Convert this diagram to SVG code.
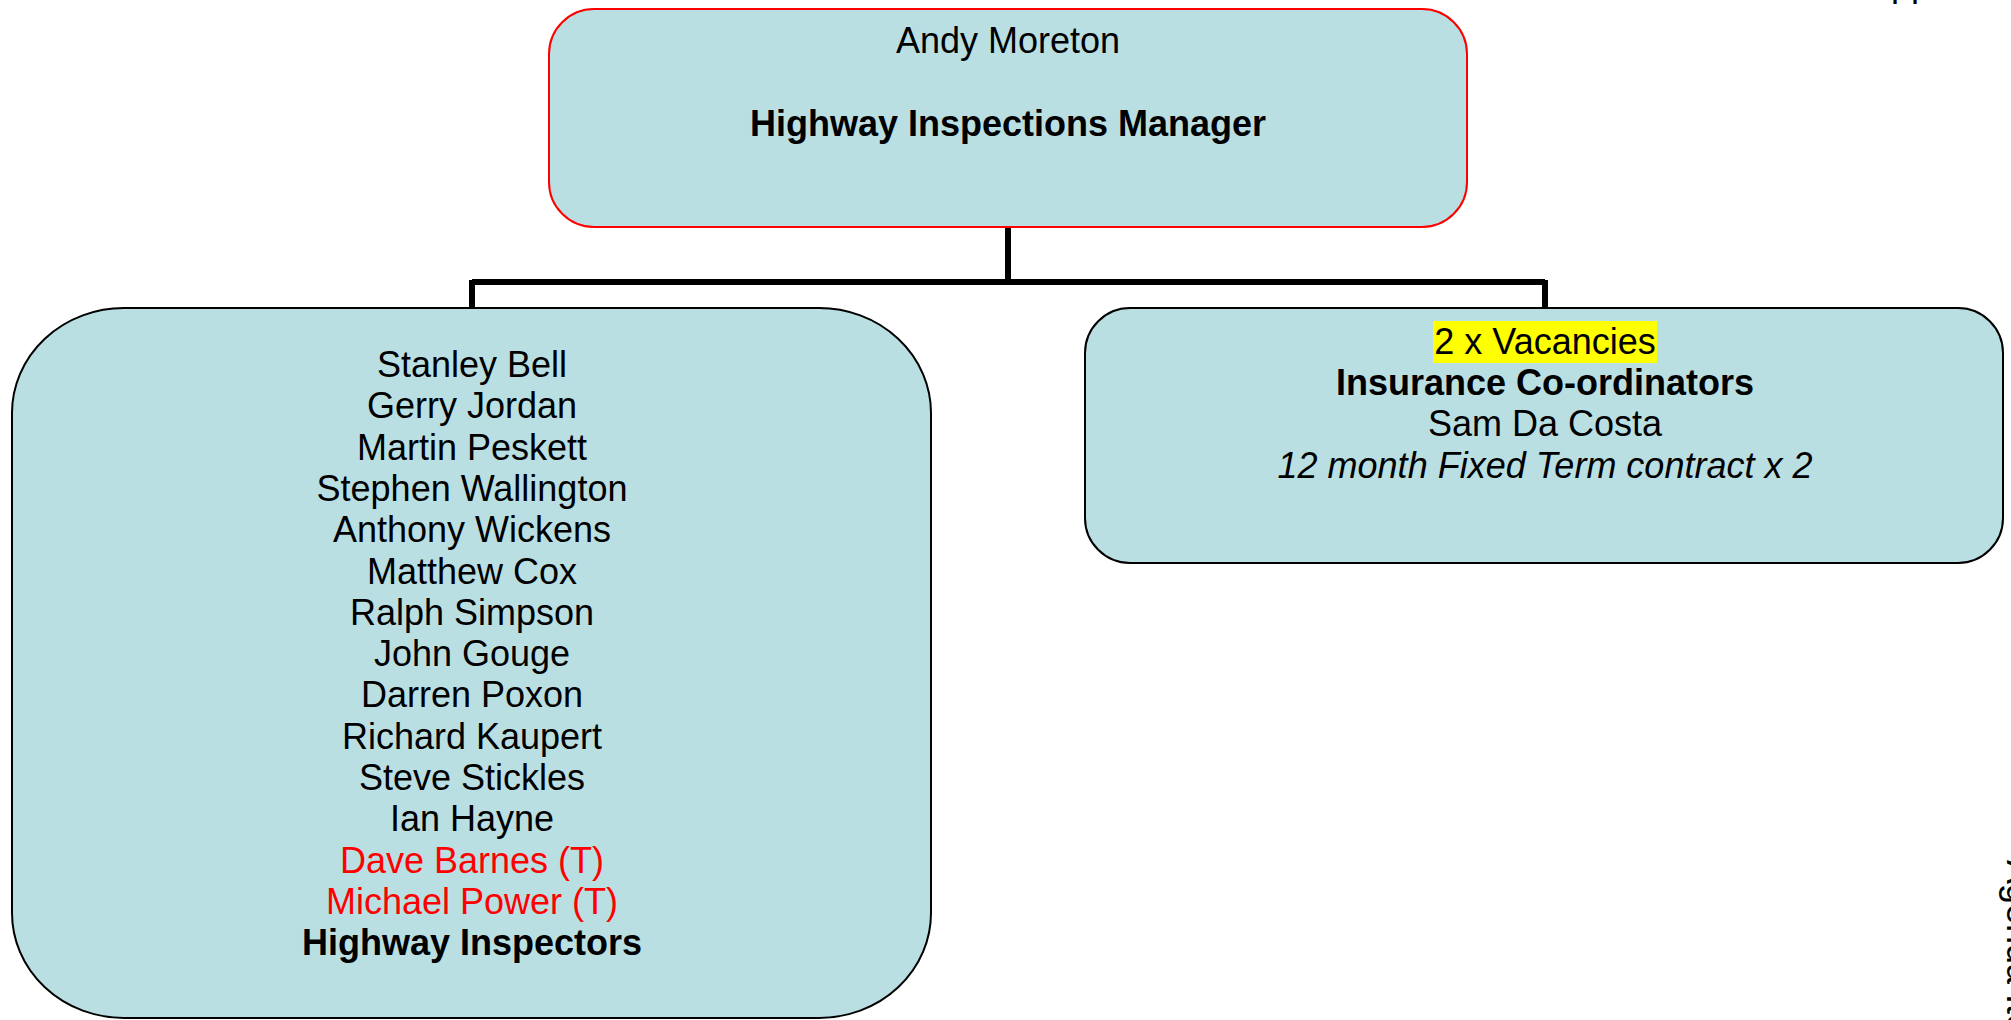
<svg xmlns="http://www.w3.org/2000/svg" width="2011" height="1020" viewBox="0 0 2011 1020">
<style>
  .box { fill: #BADFE3; stroke: #000; stroke-width: 2; }
  .boss { fill: #BADFE3; stroke: #FF0000; stroke-width: 2; }
  .t { font-family: "Liberation Sans", Arial, sans-serif; font-size: 36px; text-anchor: middle; fill: #000; }
  .b { font-weight: bold; }
  .i { font-style: italic; }
  .red { fill: #FF0000; }
  .conn { stroke: #000; stroke-width: 6; fill: none; }
</style>
<rect width="2011" height="1020" fill="#FFFFFF"/>
<g id="corner-text">
  <text class="t" style="text-anchor:start" x="1867" y="-4">Appendix</text>
  <text class="t" style="text-anchor:start" transform="translate(2007,860) rotate(90)" x="0" y="0">Agenda Item</text>
</g>
<g id="connectors">
  <path class="conn" d="M1008,227 V282 M472,282 H1545 M472,280 V308 M1545,280 V308"/>
</g>
<g id="manager">
  <rect class="boss" x="549" y="9" width="918" height="218" rx="45" ry="45"/>
  <text class="t" x="1008" y="53">Andy Moreton</text>
  <text class="t b" x="1008" y="136">Highway Inspections Manager</text>
</g>
<g id="inspectors">
  <rect class="box" x="12" y="308" width="919" height="710" rx="112" ry="105"/>
  <text class="t" x="472" y="377">Stanley Bell</text>
  <text class="t" x="472" y="418.3">Gerry Jordan</text>
  <text class="t" x="472" y="459.6">Martin Peskett</text>
  <text class="t" x="472" y="500.9">Stephen Wallington</text>
  <text class="t" x="472" y="542.2">Anthony Wickens</text>
  <text class="t" x="472" y="583.5">Matthew Cox</text>
  <text class="t" x="472" y="624.8">Ralph Simpson</text>
  <text class="t" x="472" y="666.1">John Gouge</text>
  <text class="t" x="472" y="707.4">Darren Poxon</text>
  <text class="t" x="472" y="748.7">Richard Kaupert</text>
  <text class="t" x="472" y="790">Steve Stickles</text>
  <text class="t" x="472" y="831.3">Ian Hayne</text>
  <text class="t red" x="472" y="872.6">Dave Barnes (T)</text>
  <text class="t red" x="472" y="913.9">Michael Power (T)</text>
  <text class="t b" x="472" y="955.2">Highway Inspectors</text>
</g>
<g id="coordinators">
  <rect class="box" x="1085" y="308" width="918" height="255" rx="45" ry="45"/>
  <rect x="1433" y="321" width="224" height="42" fill="#FFFF00"/>
  <text class="t" x="1545" y="354">2 x Vacancies</text>
  <text class="t b" x="1545" y="395">Insurance Co-ordinators</text>
  <text class="t" x="1545" y="436">Sam Da Costa</text>
  <text class="t i" x="1545" y="478">12 month Fixed Term contract x 2</text>
</g>
</svg>
